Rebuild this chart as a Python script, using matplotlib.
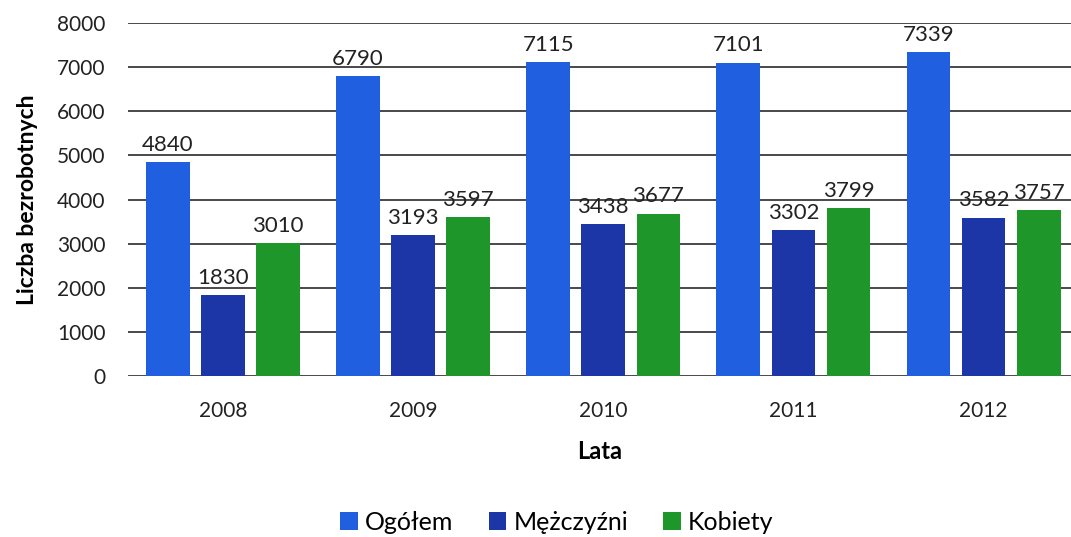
import matplotlib.pyplot as plt
import numpy as np

years = ["2008", "2009", "2010", "2011", "2012"]
ogolem = [4840, 6790, 7115, 7101, 7339]
mezczyzni = [1830, 3193, 3438, 3302, 3582]
kobiety = [3010, 3597, 3677, 3799, 3757]

series = [
    ("Ogółem", ogolem, "#1f5fe0"),
    ("Mężczyźni", mezczyzni, "#1c36a8"),
    ("Kobiety", kobiety, "#1f962a"),
]

plt.rcParams["font.family"] = ["Lato", "DejaVu Sans"]

fig = plt.figure(figsize=(10.71, 5.37), dpi=100)
ax = fig.add_axes([128 / 1071, 1 - 376 / 537, 1 - 128 / 1071, (376 - 23) / 537])

x = np.arange(len(years))
width = 0.23
offsets = [-0.29, 0.0, 0.29]

for (name, vals, color), off in zip(series, offsets):
    bars = ax.bar(x + off, vals, width, color=color, label=name, zorder=3)
    for b, v in zip(bars, vals):
        ax.text(b.get_x() + b.get_width() / 2, v + 170, str(v),
                ha="center", va="bottom", fontsize=16, color="#222222", zorder=4)

ax.set_ylim(0, 8000)
ax.set_xlim(-0.5, 4.46)
ax.set_yticks(range(0, 8001, 1000))
ax.yaxis.grid(True, color="#3a3a3a", linewidth=1.3, zorder=0)
ax.set_axisbelow(True)
for s in ax.spines.values():
    s.set_visible(False)
ax.tick_params(axis="both", length=0, labelsize=15, colors="#222222")
ax.tick_params(axis="y", pad=16)
ax.tick_params(axis="x", pad=18)
ax.set_xticks(x)
ax.set_xticklabels(years)

ax.set_xlabel("Lata", fontsize=17, fontweight="bold", labelpad=14)
ax.set_ylabel("Liczba bezrobotnych", fontsize=16.5, fontweight="bold", labelpad=14)

fig.legend(loc="center", bbox_to_anchor=(0.52, 1 - 522 / 537), ncol=3,
           frameon=False, fontsize=18, handlelength=0.7, handleheight=0.7,
           handletextpad=0.3, columnspacing=1.4)

fig.savefig("out.png", dpi=100)
